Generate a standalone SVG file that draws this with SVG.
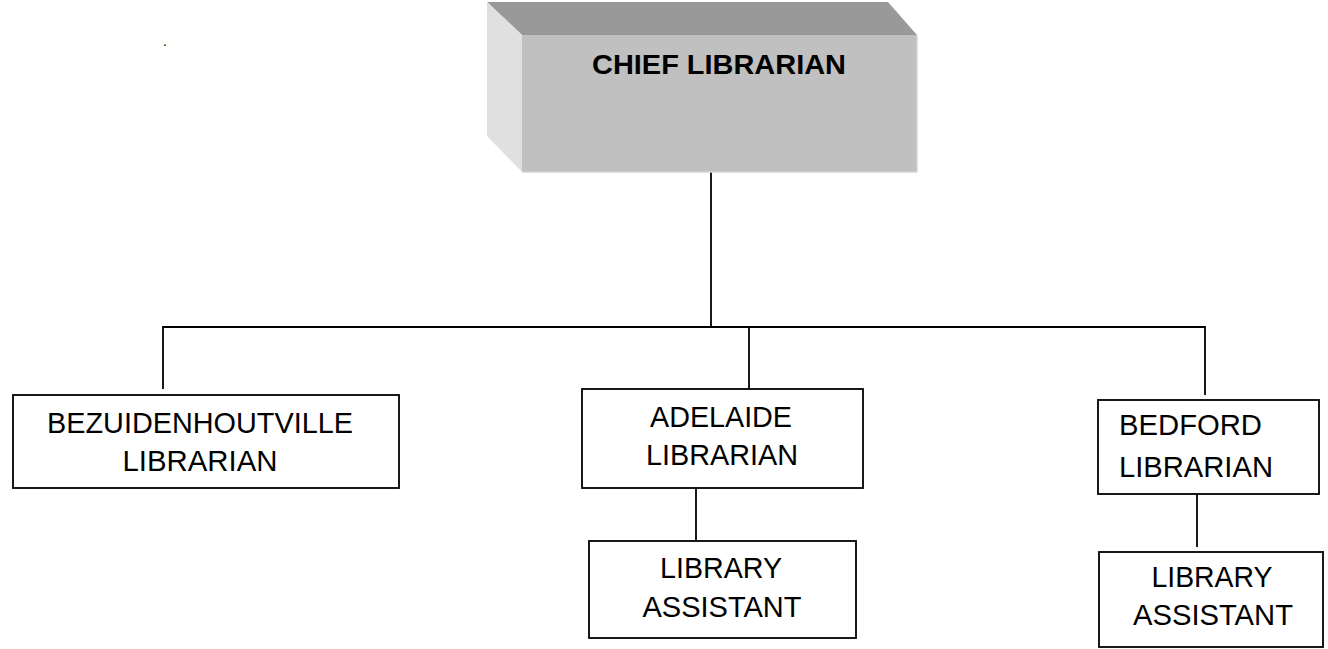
<svg xmlns="http://www.w3.org/2000/svg" width="1328" height="649" viewBox="0 0 1328 649">
  <style>
    .box { fill: #ffffff; stroke: #000000; stroke-width: 1.8; }
    .line { fill: none; stroke: #000000; stroke-width: 1.8; }
    .lbl { font-family: "Liberation Sans", Arial, sans-serif; font-size: 30px; fill: #000000; }
    .mid { text-anchor: middle; }
    .head { font-family: "Liberation Sans", Arial, sans-serif; font-size: 28px; font-weight: bold; fill: #000000; text-anchor: middle; }
  </style>
  <rect width="1328" height="649" fill="#ffffff"/>

  <text x="163" y="46" font-family="Liberation Sans, Arial, sans-serif" font-size="14" fill="#000">.</text>

  <!-- connectors -->
  <g id="connectors">
    <polyline class="line" points="163,389 163,327 1205,327 1205,395"/>
    <line class="line" x1="711" y1="172" x2="711" y2="327"/>
    <line class="line" x1="749" y1="327" x2="749" y2="389"/>
    <line class="line" x1="696" y1="483" x2="696" y2="541"/>
    <line class="line" x1="1197" y1="494" x2="1197" y2="547"/>
  </g>

  <!-- top node: bevelled block -->
  <g id="chief">
    <polygon points="487,2 888,2 917,35 522,35" fill="#999999"/>
    <polygon points="487,2 522,35 522,172 487,136" fill="#e0e0e0"/>
    <rect x="522" y="35" width="395" height="137" fill="#c0c0c0"/>
    <line x1="917" y1="35" x2="917" y2="172" stroke="#d4d4d4" stroke-width="1.5"/>
    <line x1="522" y1="172" x2="917" y2="172" stroke="#d4d4d4" stroke-width="1.5"/>
    <text class="head" x="719" y="74" textLength="254" lengthAdjust="spacingAndGlyphs">CHIEF LIBRARIAN</text>
  </g>

  <g id="bezuidenhoutville">
    <rect class="box" x="13" y="395" width="386" height="93"/>
    <text class="lbl mid" x="200" y="433" textLength="306" lengthAdjust="spacingAndGlyphs">BEZUIDENHOUTVILLE</text>
    <text class="lbl mid" x="200" y="471" textLength="155" lengthAdjust="spacingAndGlyphs">LIBRARIAN</text>
  </g>

  <g id="adelaide">
    <rect class="box" x="582" y="389" width="281" height="99"/>
    <text class="lbl mid" x="721" y="427" textLength="142" lengthAdjust="spacingAndGlyphs">ADELAIDE</text>
    <text class="lbl mid" x="722" y="465" textLength="152" lengthAdjust="spacingAndGlyphs">LIBRARIAN</text>
  </g>

  <g id="adelaide-assistant">
    <rect class="box" x="589" y="541" width="267" height="97"/>
    <text class="lbl mid" x="721" y="578" textLength="122" lengthAdjust="spacingAndGlyphs">LIBRARY</text>
    <text class="lbl mid" x="722" y="617" textLength="159" lengthAdjust="spacingAndGlyphs">ASSISTANT</text>
  </g>

  <g id="bedford">
    <rect class="box" x="1098" y="400" width="221" height="94"/>
    <text class="lbl" x="1119" y="435" textLength="143" lengthAdjust="spacingAndGlyphs">BEDFORD</text>
    <text class="lbl" x="1119" y="477" textLength="154" lengthAdjust="spacingAndGlyphs">LIBRARIAN</text>
  </g>

  <g id="bedford-assistant">
    <rect class="box" x="1099" y="552" width="224" height="95"/>
    <text class="lbl mid" x="1212" y="587" textLength="121" lengthAdjust="spacingAndGlyphs">LIBRARY</text>
    <text class="lbl mid" x="1213" y="625" textLength="160" lengthAdjust="spacingAndGlyphs">ASSISTANT</text>
  </g>
</svg>
